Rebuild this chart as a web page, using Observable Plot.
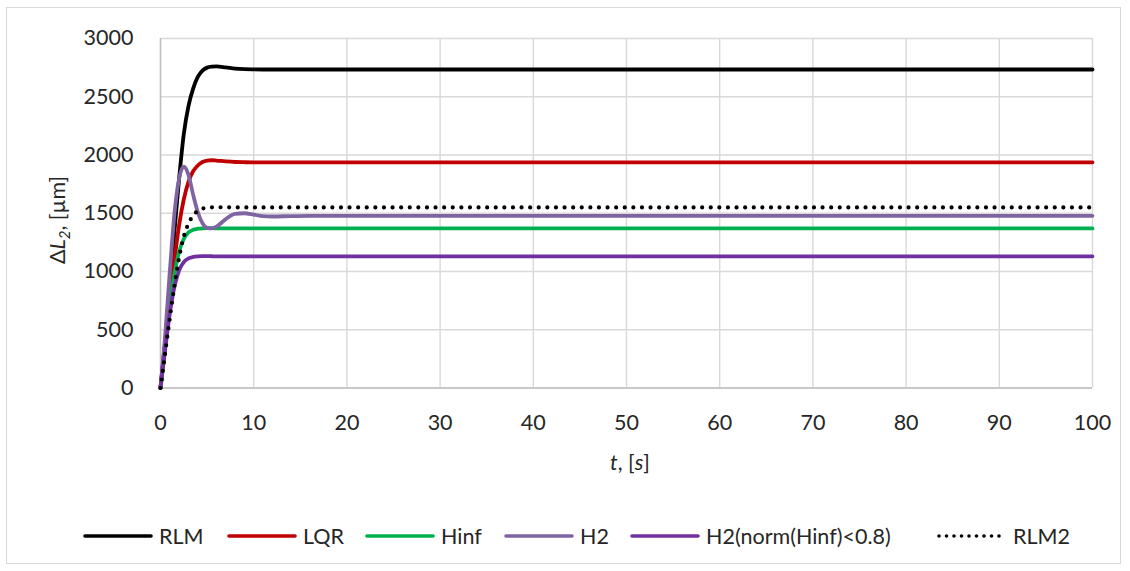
<!DOCTYPE html>
<html>
<head>
<meta charset="utf-8">
<script src="https://cdn.jsdelivr.net/npm/d3@7"></script>
<script src="https://cdn.jsdelivr.net/npm/@observablehq/plot@0.6"></script>
<style>
  html, body { margin: 0; padding: 0; background: #fff; }
  #wrap { position: relative; width: 1130px; height: 571px; overflow: hidden; font-family: Lato, "Open Sans", sans-serif; color: #262626; }
  #frame { position: absolute; left: 6px; top: 7px; width: 1115px; height: 557px; border: 1px solid #d9d9d9; box-sizing: border-box; }
  #chart { position: absolute; left: 0; top: 0; }
  #legend { position: absolute; left: 0; top: 520px; width: 1130px; height: 32px; font-size: 21.5px; }
  .item { position: absolute; top: 0; height: 32px; display: flex; align-items: center; white-space: nowrap; }
  .item svg { margin-right: 6px; }
</style>
</head>
<body>
<div id="wrap">
  <div id="frame"></div>
  <div id="chart"></div>
  <div id="legend"></div>
</div>
<script>
// time samples (s)
const times = [0, 0.5, 1, 1.5, 2, 2.5, 3, 3.5, 4, 4.5, 5, 5.5, 6, 7, 8, 9, 10, 11, 12, 14, 16, 20, 100];

// series values (µm)
const rlm    = [0, 400, 850, 1350, 1800, 2180, 2420, 2570, 2670, 2725, 2750, 2758, 2760, 2752, 2742, 2737, 2735, 2734, 2734, 2734, 2734, 2734, 2734];
const lqr    = [0, 380, 760, 1100, 1400, 1620, 1770, 1860, 1910, 1940, 1952, 1955, 1952, 1945, 1940, 1938, 1937, 1937, 1937, 1937, 1937, 1937, 1937];
const hinf   = [0, 350, 700, 980, 1170, 1280, 1335, 1358, 1367, 1371, 1372, 1372, 1371, 1370, 1370, 1370, 1370, 1370, 1370, 1370, 1370, 1370, 1370];
const h2     = [0, 450, 1000, 1500, 1800, 1900, 1830, 1660, 1510, 1415, 1375, 1370, 1385, 1450, 1495, 1500, 1488, 1475, 1472, 1476, 1478, 1478, 1478];
const h2norm = [0, 330, 640, 870, 1010, 1080, 1112, 1125, 1130, 1132, 1132, 1131, 1130, 1130, 1130, 1130, 1130, 1130, 1130, 1130, 1130, 1130, 1130];
const rlm2   = [0, 300, 600, 880, 1120, 1300, 1410, 1480, 1520, 1540, 1548, 1551, 1552, 1551, 1550, 1550, 1550, 1550, 1550, 1550, 1550, 1550, 1550];

const seriesNames = ["RLM", "LQR", "Hinf", "H2", "H2(norm(Hinf)<0.8)", "RLM2"];
const seriesValues = [rlm, lqr, hinf, h2, h2norm, rlm2];
const seriesColors = ["#000000", "#c00000", "#00b050", "#8064a2", "#7030a0", "#000000"];
const seriesDotted = [false, false, false, false, false, true];

const xTicks = [0, 10, 20, 30, 40, 50, 60, 70, 80, 90, 100];
const yTicks = [0, 500, 1000, 1500, 2000, 2500, 3000];

const rows = [];
seriesNames.forEach((name, i) => {
  seriesValues[i].forEach((v, j) => rows.push({series: name, t: times[j], v}));
});

const lineMarks = seriesNames.map((name, i) =>
  Plot.line(rows.filter(d => d.series === name), {
    x: "t", y: "v",
    stroke: seriesColors[i],
    strokeWidth: seriesDotted[i] ? 4.2 : 3.8,
    strokeDasharray: seriesDotted[i] ? "0,8.6" : null,
    strokeLinecap: "round",
    curve: "monotone-x"
  })
);

const svgPlot = Plot.plot({
  width: 1130,
  height: 490,
  marginLeft: 160,
  marginRight: 38,
  marginTop: 38,
  marginBottom: 102.5,
  style: {fontFamily: "Lato, 'Open Sans', sans-serif", fontSize: "21.5px", color: "#262626", background: "transparent"},
  x: {domain: [0, 100], label: null},
  y: {domain: [0, 3000], label: null},
  marks: [
    Plot.gridX(xTicks, {stroke: "#d9d9d9", strokeOpacity: 1, strokeWidth: 1.4}),
    Plot.gridY(yTicks, {stroke: "#d9d9d9", strokeOpacity: 1, strokeWidth: 1.4}),
    Plot.ruleX([0], {stroke: "#bfbfbf", strokeWidth: 1.4}),
    Plot.ruleY([0], {stroke: "#bfbfbf", strokeWidth: 1.4}),
    Plot.axisX(xTicks, {tickSize: 0, tickPadding: 27, label: null, fontSize: 21.5, tickFormat: d => String(d)}),
    Plot.axisY(yTicks, {tickSize: 0, tickPadding: 27, label: null, fontSize: 21.5, tickFormat: d => String(d)}),
    ...lineMarks
  ]
});
document.getElementById("chart").appendChild(svgPlot);

// axis titles with italic parts and subscript
const svg = d3.select(svgPlot);
const yl = svg.append("text")
  .attr("transform", "translate(65,220) rotate(-90)")
  .attr("text-anchor", "middle")
  .attr("font-size", 21.5)
  .attr("fill", "#262626");
yl.append("tspan").text("Δ");
yl.append("tspan").attr("font-style", "italic").text("L");
yl.append("tspan").attr("font-style", "italic").attr("font-size", 15).attr("dy", 5).text("2");
yl.append("tspan").attr("dy", -5).text(", [µm]");

const xl = svg.append("text")
  .attr("x", 630).attr("y", 470)
  .attr("text-anchor", "middle")
  .attr("font-size", 21.5)
  .attr("fill", "#262626");
xl.append("tspan").attr("font-style", "italic").text("t");
xl.append("tspan").text(", [");
xl.append("tspan").attr("font-style", "italic").text("s");
xl.append("tspan").text("]");

// legend (item left positions are layout)
const legendLefts = [83, 227, 365, 504, 630, 937];
const legend = d3.select("#legend");
seriesNames.forEach((name, i) => {
  const item = legend.append("div").attr("class", "item").style("left", legendLefts[i] + "px");
  const s = item.append("svg").attr("width", 70).attr("height", 8);
  s.append("line").attr("x1", 2).attr("x2", 68).attr("y1", 4).attr("y2", 4)
    .attr("stroke", seriesColors[i])
    .attr("stroke-width", seriesDotted[i] ? 3.6 : 3.6)
    .attr("stroke-linecap", "round")
    .attr("stroke-dasharray", seriesDotted[i] ? "0,7.5" : null);
  item.append("span").text(name);
});
</script>
</body>
</html>
